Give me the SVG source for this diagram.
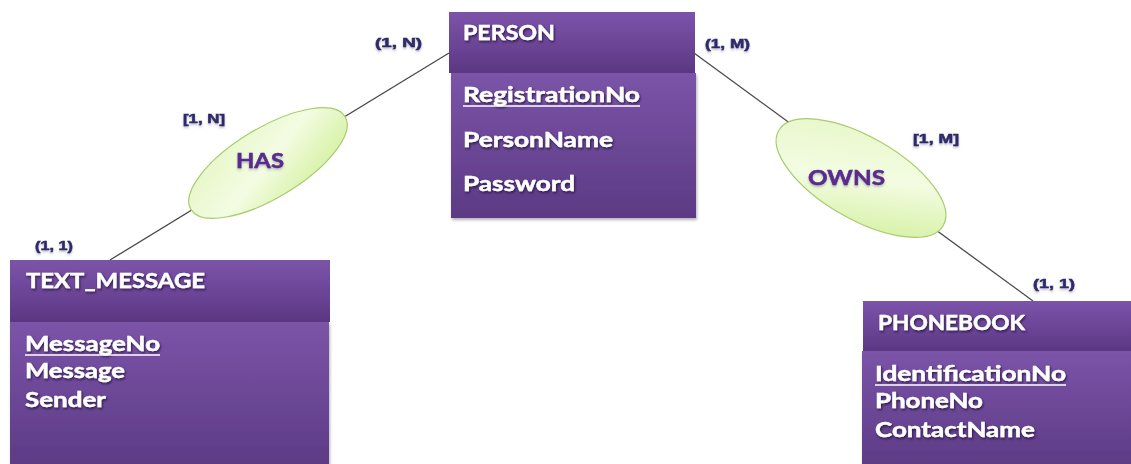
<svg xmlns="http://www.w3.org/2000/svg" width="1131" height="464" viewBox="0 0 1131 464">
  <defs>
    <linearGradient id="gHead" x1="0" y1="0" x2="0" y2="1">
      <stop offset="0" stop-color="#7c53a9"/>
      <stop offset="0.6" stop-color="#6a4394"/>
      <stop offset="1" stop-color="#5a3782"/>
    </linearGradient>
    <linearGradient id="gBody" x1="0" y1="0" x2="0" y2="1">
      <stop offset="0" stop-color="#7b54a8"/>
      <stop offset="1" stop-color="#5c3a84"/>
    </linearGradient>
    <linearGradient id="gRel" x1="0" y1="0" x2="1" y2="1">
      <stop offset="0" stop-color="#e4f6c2"/>
      <stop offset="0.5" stop-color="#f3fce2"/>
      <stop offset="1" stop-color="#cdee93"/>
    </linearGradient>
    <filter id="txtShadow" x="-10%" y="-30%" width="120%" height="160%">
      <feDropShadow dx="1" dy="1.5" stdDeviation="1" flood-color="#1e0f33" flood-opacity="0.8"/>
    </filter>
    <filter id="boxShadow" x="-5%" y="-5%" width="110%" height="115%">
      <feDropShadow dx="1" dy="2" stdDeviation="1.5" flood-color="#000" flood-opacity="0.3"/>
    </filter>
    <filter id="lblShadow" x="-10%" y="-30%" width="120%" height="180%">
      <feDropShadow dx="0" dy="1.5" stdDeviation="1" flood-color="#6a6a8a" flood-opacity="0.5"/>
    </filter>
  </defs>
  <style>
    .head { fill: url(#gHead); }
    .body { fill: url(#gBody); filter: url(#boxShadow); }
    .title, .attr { font-family: Lato, "Open Sans", "Liberation Sans", sans-serif; font-weight: bold; font-size: 20px; fill: #ffffff; stroke: #ffffff; stroke-width: 0.4; filter: url(#txtShadow); }
    .ul { stroke: #ffffff; stroke-width: 1.6; }
    .rel { fill: url(#gRel); stroke: #a9cc6e; stroke-width: 1.2; }
    .relTxt { font-family: Lato, "Open Sans", "Liberation Sans", sans-serif; font-weight: bold; font-size: 21px; fill: #5a2a8c; stroke: #5a2a8c; stroke-width: 0.5; filter: url(#lblShadow); }
    .card { font-family: "Liberation Sans", Arial, sans-serif; font-weight: bold; font-size: 12.5px; fill: #2f2a6a; stroke: #2f2a6a; stroke-width: 0.5; filter: url(#lblShadow); }
    .conn line { stroke: #4a4a4a; stroke-width: 1.3; }
  </style>

  <!-- connectors -->
  <g id="connectors" class="conn">
    <line x1="449" y1="53" x2="110" y2="260"/>
    <line x1="694" y1="53" x2="1033" y2="301"/>
  </g>

  <!-- relationship: HAS -->
  <g id="rel-has">
    <ellipse class="rel" cx="268" cy="163" rx="90" ry="35" transform="rotate(-31 268 163)"/>
    <text class="relTxt" x="236" y="168" textLength="48" lengthAdjust="spacingAndGlyphs">HAS</text>
  </g>

  <!-- relationship: OWNS -->
  <g id="rel-owns">
    <ellipse class="rel" cx="861" cy="178" rx="95" ry="41" transform="rotate(30 861 178)"/>
    <text class="relTxt" x="808" y="185" textLength="77" lengthAdjust="spacingAndGlyphs">OWNS</text>
  </g>

  <!-- entity: PERSON -->
  <g id="person">
    <rect class="body" x="451" y="73" width="245" height="145"/>
    <rect class="head" x="449" y="12" width="246" height="61"/>
    <text class="title" x="463" y="40" textLength="92" lengthAdjust="spacingAndGlyphs">PERSON</text>
    <text class="attr" x="463" y="102" textLength="177" lengthAdjust="spacingAndGlyphs">RegistrationNo</text>
    <line class="ul" x1="463" y1="106" x2="640" y2="106"/>
    <text class="attr" x="463" y="147" textLength="150" lengthAdjust="spacingAndGlyphs">PersonName</text>
    <text class="attr" x="463" y="191" textLength="112" lengthAdjust="spacingAndGlyphs">Password</text>
  </g>

  <!-- entity: TEXT_MESSAGE -->
  <g id="text-message">
    <rect class="body" x="10" y="322" width="319" height="150"/>
    <rect class="head" x="10" y="260" width="320" height="62"/>
    <text class="title" x="26" y="288" textLength="179" lengthAdjust="spacingAndGlyphs">TEXT_MESSAGE</text>
    <text class="attr" x="25" y="351" textLength="135" lengthAdjust="spacingAndGlyphs">MessageNo</text>
    <line class="ul" x1="25" y1="355" x2="160" y2="355"/>
    <text class="attr" x="25" y="378" textLength="100" lengthAdjust="spacingAndGlyphs">Message</text>
    <text class="attr" x="25" y="407" textLength="81" lengthAdjust="spacingAndGlyphs">Sender</text>
  </g>

  <!-- entity: PHONEBOOK -->
  <g id="phonebook">
    <rect class="body" x="862" y="351" width="275" height="120"/>
    <rect class="head" x="863" y="301" width="274" height="50"/>
    <text class="title" x="878" y="330" textLength="147" lengthAdjust="spacingAndGlyphs">PHONEBOOK</text>
    <text class="attr" x="875" y="381" textLength="191" lengthAdjust="spacingAndGlyphs">IdentificationNo</text>
    <line class="ul" x1="875" y1="385" x2="1066" y2="385"/>
    <text class="attr" x="875" y="408" textLength="108" lengthAdjust="spacingAndGlyphs">PhoneNo</text>
    <text class="attr" x="875" y="437" textLength="160" lengthAdjust="spacingAndGlyphs">ContactName</text>
  </g>

  <!-- cardinalities -->
  <g id="cardinalities">
    <text class="card" x="375" y="47" textLength="47" lengthAdjust="spacingAndGlyphs">(1, N)</text>
    <text class="card" x="183" y="123" textLength="42" lengthAdjust="spacingAndGlyphs">[1, N]</text>
    <text class="card" x="35" y="250" textLength="38" lengthAdjust="spacingAndGlyphs">(1, 1)</text>
    <text class="card" x="705" y="48" textLength="45" lengthAdjust="spacingAndGlyphs">(1, M)</text>
    <text class="card" x="913" y="143" textLength="46" lengthAdjust="spacingAndGlyphs">[1, M]</text>
    <text class="card" x="1033" y="288" textLength="42" lengthAdjust="spacingAndGlyphs">(1, 1)</text>
  </g>
</svg>
